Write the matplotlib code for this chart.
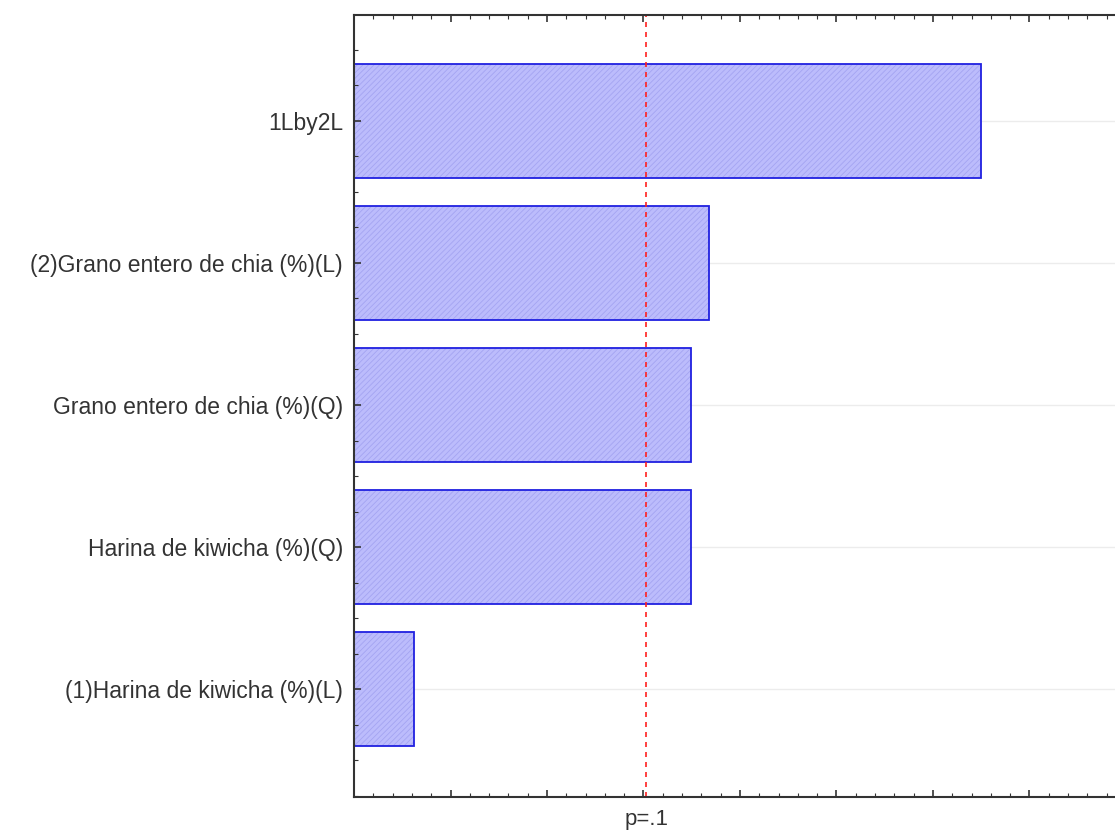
import matplotlib
matplotlib.use("Agg")
import matplotlib.pyplot as plt
from matplotlib.ticker import MultipleLocator, NullFormatter

# Pareto chart data (standardized effects)
effects = ["1Lby2L",
           "(2)Grano entero de chia (%)(L)",
           "Grano entero de chia (%)(Q)",
           "Harina de kiwicha (%)(Q)",
           "(1)Harina de kiwicha (%)(L)"]
values = [3.25, 1.84, 1.745, 1.745, 0.31]
p_value = 1.515
p_label = "p=.1"

plt.rcParams['font.family'] = ['Liberation Sans', 'DejaVu Sans']
plt.rcParams['hatch.linewidth'] = 0.6

fig = plt.figure(figsize=(11.15, 8.35), dpi=100)
ax = fig.add_axes([354 / 1115, 1 - 797 / 835, 772 / 1115, 782 / 835])

pos = list(range(len(effects)))
# faint grid at each effect
for p in pos:
    ax.axhline(p, color='#ececec', linewidth=1, zorder=0)

# hatched fill, then outline on top
ax.barh(pos, values, height=0.8, color='#bcbcfc', edgecolor='#a4a4f2',
        hatch='//////', linewidth=0, zorder=2)
ax.barh(pos, values, height=0.8, fill=False, edgecolor='#2020e0',
        linewidth=1.3, zorder=3)

ax.axvline(p_value, color='#ff2020', linestyle=(0, (3, 3)), linewidth=1.2, zorder=4)

ax.set_xlim(0, 4.0)
ax.set_ylim(len(effects) - 1 + 0.76, -0.746)

ax.set_yticks(pos)
ax.set_yticklabels(effects, fontsize=16.5, color='#333333')
ax.yaxis.set_minor_locator(MultipleLocator(0.25))
ax.xaxis.set_major_locator(MultipleLocator(0.5))
ax.xaxis.set_minor_locator(MultipleLocator(0.1))
ax.xaxis.set_major_formatter(NullFormatter())

ax.set_axisbelow(False)
ax.tick_params(which='both', direction='in', top=True, right=True, color='#333333')
ax.tick_params(which='major', length=5, width=1.2)
ax.tick_params(which='minor', length=3, width=0.8)
ax.tick_params(axis='y', which='major', pad=8)

for sp in ax.spines.values():
    sp.set_color('#333333')
    sp.set_linewidth(1.5)
    sp.set_zorder(5)

ax.text(p_value, -0.029, p_label, transform=ax.get_xaxis_transform(),
        ha='center', va='center', fontsize=16, color='#333333')

fig.savefig("out.png", dpi=100)
